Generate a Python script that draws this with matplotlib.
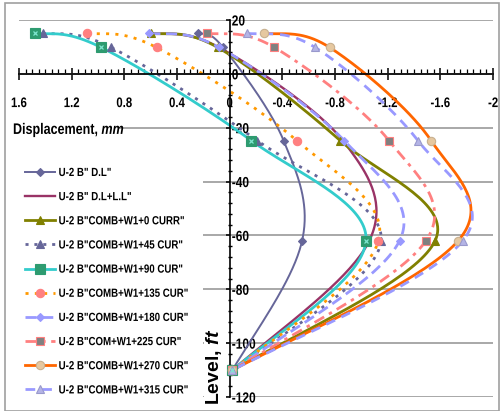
import numpy as np
import matplotlib
matplotlib.use("Agg")
import matplotlib.pyplot as plt
from matplotlib.patches import Rectangle
from matplotlib.lines import Line2D
from matplotlib.ticker import MultipleLocator, FixedLocator, FixedFormatter
from matplotlib.patheffects import AbstractPathEffect
from matplotlib.transforms import Affine2D, Bbox

plt.rcParams['font.family'] = ['Liberation Sans', 'DejaVu Sans']
plt.rcParams['font.weight'] = 'bold'
plt.rcParams['lines.scale_dashes'] = False
plt.rcParams['mathtext.fontset'] = 'custom'
plt.rcParams['mathtext.rm'] = 'Liberation Sans:bold'
plt.rcParams['mathtext.it'] = 'Liberation Sans:italic:bold'
plt.rcParams['mathtext.bf'] = 'Liberation Sans:bold'

# ---------------- data ----------------
levels = [15, 9.8, -24.8, -62, -110]
dl = [0.24, 0.05, -0.41, -0.55, -0.02]
dl_ll = [0.63, 0.08, -0.86, -1.06, -0.02]
w0 = [0.60, 0.09, -0.84, -1.56, -0.02]
w45 = [1.42, 0.90, -0.21, -1.15, -0.02]
w90 = [1.48, 0.975, -0.165, -1.035, -0.02]
w135 = [1.08, 0.555, -0.51, -1.13, -0.02]
w180 = [0.61, 0.08, -0.87, -1.29, -0.02]
w225 = [0.17, -0.34, -1.21, -1.49, -0.02]
w270 = [-0.26, -0.76, -1.53, -1.735, -0.02]
w315 = [-0.13, -0.65, -1.43, -1.77, -0.02]

series_names = ['U-2 B" D.L"', 'U-2 B" D.L+L.L"', 'U-2 B"COMB+W1+0 CURR"',
                'U-2 B"COMB+W1+45 CUR"', 'U-2 B"COMB+W1+90 CUR"', 'U-2 B"COMB+W1+135 CUR"',
                'U-2 B"COMB+W1+180 CUR"', 'U-2 B"COM+W1+225 CUR"', 'U-2 B"COMB+W1+270 CUR"',
                'U-2 B"COMB+W1+315 CUR"']
series_values = [dl, dl_ll, w0, w45, w90, w135, w180, w225, w270, w315]

x_ticks = [1.6, 1.2, 0.8, 0.4, 0, -0.4, -0.8, -1.2, -1.6, -2]
x_tick_labels = ['1.6', '1.2', '0.8', '0.4', '0', '-0.4', '-0.8', '-1.2', '-1.6', '-2']
y_ticks = [20, 0, -20, -40, -60, -80, -100, -120]
y_tick_labels = ['20', '0', '-20', '-40', '-60', '-80', '-100', '-120']
x_label = r'Displacement, $\mathit{mm}$'
y_label = r'Level, $\mathit{ft}$'

# ---------------- styles ----------------
styles = [
    dict(color='#666699', lw=1.4, dashes=None, marker='D', ms=4.5, mfc='#666699', mec='#666699'),
    dict(color='#993366', lw=1.7, dashes=None, marker=None, ms=0, mfc='none', mec='none'),
    dict(color='#808000', lw=2.0, dashes=None, marker='^', ms=6, mfc='#808000', mec='#808000'),
    dict(color='#666699', lw=2.0, dashes=(2.2, 4.2), marker='^', ms=6, mfc='#666699', mec='#666699'),
    dict(color='#33CCCC', lw=2.0, dashes=None, marker='s', ms=6.5, mfc='#2E9B70', mec='#2E9B70'),
    dict(color='#FF9900', lw=2.0, dashes=(2.2, 4.5), marker='o', ms=6, mfc='#FF8080', mec='#FF8080'),
    dict(color='#9999FF', lw=2.0, dashes=(8, 4), marker='D', ms=4.5, mfc='#9999FF', mec='#9999FF'),
    dict(color='#FF8080', lw=2.0, dashes=(8, 4, 2.5, 4), marker='s', ms=5.5, mfc='#808080', mec='#FF8080'),
    dict(color='#FF6600', lw=2.0, dashes=None, marker='o', ms=6, mfc='#E6C8A0', mec='#C8B090'),
    dict(color='#9999FF', lw=2.0, dashes=(7, 5), marker='^', ms=6, mfc='#B4B4E6', mec='#9999CC'),
]

SX = 0.82


class Squeeze(AbstractPathEffect):
    """Horizontally condense a text (emulates a narrow font)."""
    def __init__(self, sx=0.82, mode='left'):
        super().__init__()
        self.sx = sx
        self.mode = mode

    def draw_path(self, renderer, gc, tpath, affine, rgbFace=None):
        if self.mode == 'center':
            ext = tpath.get_extents(affine)
            x0 = (ext.x0 + ext.x1) / 2
        else:
            x0 = affine.get_matrix()[0, 2]
        aff = affine + Affine2D().translate(-x0, 0).scale(self.sx, 1).translate(x0, 0)
        renderer.draw_path(gc, tpath, aff, rgbFace)


def squeeze_text(t, mode='left'):
    t.set_path_effects([Squeeze(SX, mode)])
    orig = t.get_window_extent

    def gwe(renderer=None, dpi=None):
        bb = orig(renderer, dpi)
        w = bb.x1 - bb.x0
        if mode == 'center':
            c = (bb.x0 + bb.x1) / 2
            return Bbox([[c - w * SX / 2, bb.y0], [c + w * SX / 2, bb.y1]])
        return Bbox([[bb.x0, bb.y0], [bb.x0 + w * SX, bb.y1]])
    t.get_window_extent = gwe


def smooth(xs, ys, n=40):
    P = np.column_stack([xs, ys]).astype(float)
    m = len(P)
    T = np.zeros_like(P)
    for i in range(1, m - 1):
        T[i] = (P[i + 1] - P[i - 1]) / 2
    nat0 = (3 * (P[1] - P[0]) - T[1]) / 2
    T[0] = 0.5 * nat0 + 0.5 * (P[1] - P[0])
    natn = (3 * (P[-1] - P[-2]) - T[-2]) / 2
    T[-1] = 0.5 * natn + 0.5 * (P[-1] - P[-2])
    t = np.linspace(0, 1, n)[:, None]
    out = []
    for i in range(m - 1):
        c0 = P[i]
        c1 = P[i] + T[i] / 3
        c2 = P[i + 1] - T[i + 1] / 3
        c3 = P[i + 1]
        seg = (1 - t) ** 3 * c0 + 3 * (1 - t) ** 2 * t * c1 + 3 * (1 - t) * t ** 2 * c2 + t ** 3 * c3
        out.append(seg if i == 0 else seg[1:])
    return np.vstack(out)


W, H = 500, 411
fig = plt.figure(figsize=(W / 100, H / 100), dpi=100)
ax = fig.add_axes([19 / W, 1 - 397 / H, (493 - 19) / W, (397 - 20) / H])
ax.set_facecolor('none')

handles = []
for name, xs, st in zip(series_names, series_values, styles):
    c = smooth(xs, levels)
    kw = dict(color=st['color'], lw=st['lw'], solid_capstyle='butt', dash_capstyle='butt')
    line, = ax.plot(c[:, 0], c[:, 1], **kw)
    if st['dashes'] is not None:
        line.set_dashes(st['dashes'])
    if st['marker']:
        ax.plot(xs, levels, ls='none', marker=st['marker'], ms=st['ms'],
                mfc=st['mfc'], mec=st['mec'], mew=0.8, zorder=3)
    h = Line2D([], [], color=st['color'], lw=st['lw'], marker=st['marker'] or '',
               ms=st['ms'], mfc=st['mfc'], mec=st['mec'], mew=0.8)
    if st['dashes'] is not None:
        h.set_dashes(st['dashes'])
    handles.append(h)

# extra "x" inside the 90 markers
ax.plot(w90, levels, ls='none', marker='x', ms=3.5, mec='#7FE6D0', mew=0.9, zorder=4)

ax.set_xlim(1.6, -2)
ax.set_ylim(-120, 20)

for s in ['left', 'top']:
    ax.spines[s].set_visible(False)
ax.spines['right'].set_position(('data', 0))
ax.spines['bottom'].set_position(('data', 0))
for s in ['right', 'bottom']:
    ax.spines[s].set_linewidth(1.2)
    ax.spines[s].set_color('black')

ax.xaxis.set_ticks_position('bottom')
ax.yaxis.set_ticks_position('right')
ax.xaxis.set_major_locator(FixedLocator(x_ticks))
ax.xaxis.set_major_formatter(FixedFormatter(x_tick_labels))
ax.xaxis.set_minor_locator(MultipleLocator(0.05))
ax.yaxis.set_major_locator(FixedLocator(y_ticks))
ax.yaxis.set_major_formatter(FixedFormatter(y_tick_labels))
ax.yaxis.set_minor_locator(MultipleLocator(4))

ax.tick_params(axis='x', which='major', direction='inout', length=8, width=1.1, pad=12, labelsize=10)
ax.tick_params(axis='x', which='minor', direction='in', length=3.5, width=0.9)
ax.tick_params(axis='y', which='major', direction='in', length=3, width=1.1, pad=1.5, labelsize=10.5)
ax.tick_params(axis='y', which='minor', direction='inout', length=2.5, width=1.0)
for lab in ax.get_xticklabels():
    lab.set_fontweight('bold')
    squeeze_text(lab, 'center')
for lab in ax.get_yticklabels():
    lab.set_fontweight('bold')
    squeeze_text(lab, 'left')

ax.grid(axis='y', which='major', color='#999999', lw=1.2)
ax.set_axisbelow(True)

# white boxes hiding the grid behind legend and labels
fig.add_artist(Rectangle((8 / W, 1 - 405 / H), (203 - 8) / W, (405 - 152) / H,
                         transform=fig.transFigure, facecolor='white', edgecolor='none', zorder=1))
fig.add_artist(Rectangle((8 / W, 1 - 141 / H), (118 - 8) / W, 22 / H,
                         transform=fig.transFigure, facecolor='white', edgecolor='none', zorder=1))
fig.add_artist(Rectangle((204 / W, 1 - 411 / H), (226 - 204) / W, (411 - 292) / H,
                         transform=fig.transFigure, facecolor='white', edgecolor='none', zorder=1))

leg = fig.legend(handles=handles, labels=series_names, loc='upper left',
                 bbox_to_anchor=(25 / W, 1 - 167 / H), frameon=False, fontsize=8.5,
                 handlelength=2.55, handletextpad=0.3, labelspacing=1.03,
                 borderpad=0, borderaxespad=0, numpoints=1)
leg.set_zorder(2)
for t in leg.get_texts():
    t.set_fontweight('bold')
    squeeze_text(t, 'left')

# x label (single text, italic unit via mathtext)
t1 = fig.text(13 / W, 1 - 130 / H, x_label, ha='left', va='center',
              fontsize=11, fontweight='bold', zorder=3)
squeeze_text(t1, 'left')

# y label
fig.text(214 / W, 1 - 405 / H, y_label, ha='center', va='bottom', rotation=90,
         fontsize=14, fontweight='bold', zorder=3)

# figure frame
fig.add_artist(Rectangle((5 / W, 0), (W - 6) / W, (H - 3) / H, transform=fig.transFigure,
                         facecolor='none', edgecolor='#A0A0A0', lw=1.2, zorder=5))

fig.savefig('out.png', dpi=100)
